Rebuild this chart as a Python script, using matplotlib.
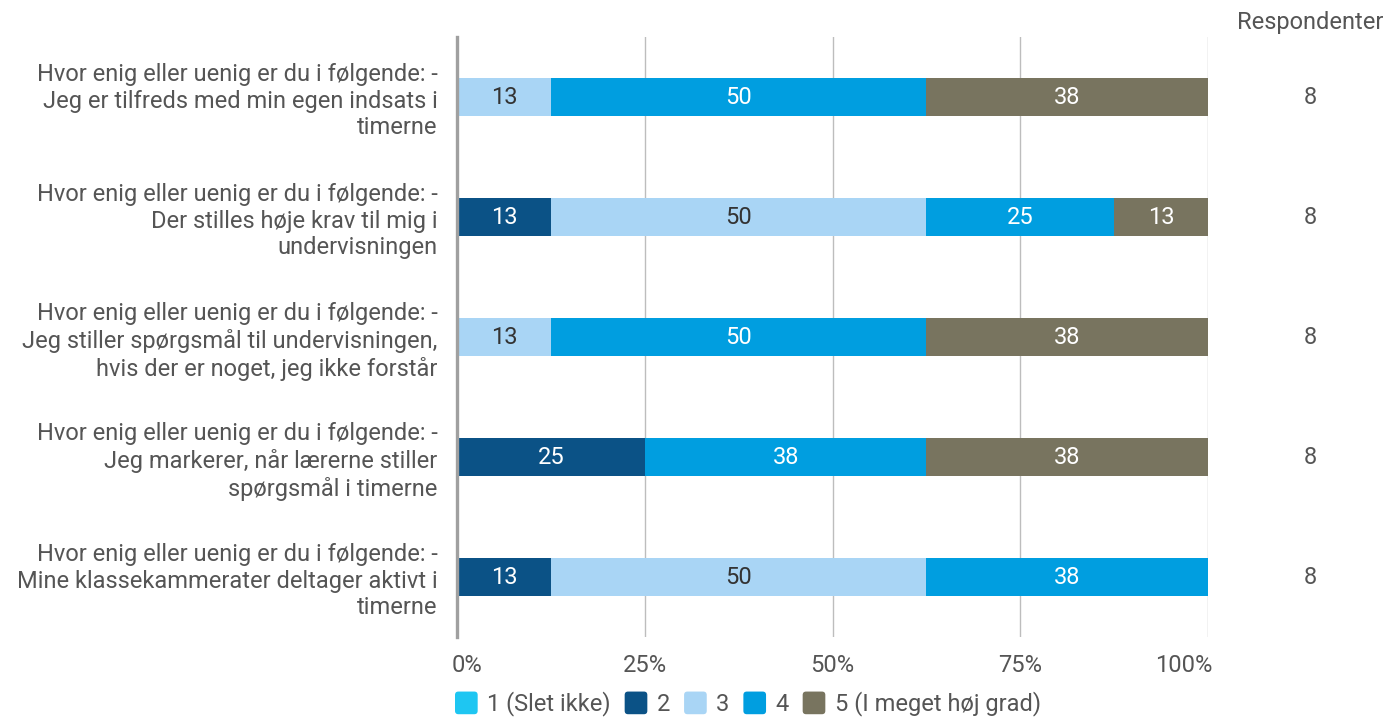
import matplotlib
matplotlib.use("Agg")
import matplotlib.pyplot as plt
from matplotlib.patches import Patch, FancyBboxPatch
from matplotlib.legend_handler import HandlerPatch
import matplotlib.transforms as mtransforms
import numpy as np

plt.rcParams['font.family'] = ['Roboto', 'DejaVu Sans']

categories = [
    "Hvor enig eller uenig er du i følgende: -\nJeg er tilfreds med min egen indsats i\ntimerne",
    "Hvor enig eller uenig er du i følgende: -\nDer stilles høje krav til mig i\nundervisningen",
    "Hvor enig eller uenig er du i følgende: -\nJeg stiller spørgsmål til undervisningen,\nhvis der er noget, jeg ikke forstår",
    "Hvor enig eller uenig er du i følgende: -\nJeg markerer, når lærerne stiller\nspørgsmål i timerne",
    "Hvor enig eller uenig er du i følgende: -\nMine klassekammerater deltager aktivt i\ntimerne",
]
series_names = ["1 (Slet ikke)", "2", "3", "4", "5 (I meget høj grad)"]
# percentages per category for each answer option
s1 = [0, 0, 0, 0, 0]
s2 = [0, 12.5, 0, 25, 12.5]
s3 = [12.5, 50, 12.5, 0, 50]
s4 = [50, 25, 50, 37.5, 37.5]
s5 = [37.5, 12.5, 37.5, 37.5, 0]
respondents = [8, 8, 8, 8, 8]
xticks = [0, 25, 50, 75, 100]
xticklabels = ["0%", "25%", "50%", "75%", "100%"]

colors = ["#1EC6F2", "#0B5286", "#A9D5F5", "#009EE0", "#78745F"]
text_colors = ["#333333", "white", "#333333", "white", "white"]

W, H = 1388, 718
fig = plt.figure(figsize=(W / 100, H / 100), dpi=100)
ax = fig.add_axes([457 / W, (H - 637) / H, 751 / W, 600 / H])

FS = 17
y = np.arange(len(categories))
left = np.zeros(len(categories))
for vals, col, tc in zip([s1, s2, s3, s4, s5], colors, text_colors):
    vals = np.array(vals, dtype=float)
    ax.barh(y, vals, left=left, height=0.317, color=col, zorder=3)
    for yi, v, l in zip(y, vals, left):
        if v > 0:
            ax.text(l + v / 2, yi, str(int(v + 0.5)), ha="center", va="center",
                    color=tc, fontsize=FS, zorder=4)
    left += vals

ax.set_xlim(0, 100)
ax.set_ylim(len(categories) - 0.5, -0.5)
ax.set_xticks(xticks)
ax.set_xticklabels(xticklabels)
ax.set_yticks(y)
ax.set_yticklabels(categories, fontsize=FS, color="#555555", ha="right",
                   linespacing=1.2)
ax.tick_params(axis="y", length=0, pad=14)
ax.tick_params(axis="x", length=0, pad=12, labelsize=FS, labelcolor="#555555")
xl = ax.get_xticklabels()
xl[0].set_ha("left")
xl[0].set_transform(xl[0].get_transform() +
                    mtransforms.ScaledTranslation(-5 / 100, 0, fig.dpi_scale_trans))
xl[-1].set_ha("right")
xl[-1].set_transform(xl[-1].get_transform() +
                     mtransforms.ScaledTranslation(4 / 100, 0, fig.dpi_scale_trans))

ax.grid(axis="x", color="#BDBDBD", linewidth=1, zorder=0)
ax.grid(axis="y", visible=False)
for s in ["top", "right", "bottom"]:
    ax.spines[s].set_visible(False)
ax.spines["left"].set_color("#A0A0A0")
ax.spines["left"].set_linewidth(2.4)
ax.spines["left"].set_zorder(5)

# Respondents column
fig.text(1310 / W, 1 - 22 / H, "Respondenter", ha="center", va="center",
         fontsize=FS, color="#555555")
for yi, r in zip(y, respondents):
    disp = ax.transData.transform((0, yi))
    fy = fig.transFigure.inverted().transform(disp)[1]
    fig.text(1310 / W, fy, str(r), ha="center", va="center", fontsize=FS, color="#555555")


class RoundHandler(HandlerPatch):
    def create_artists(self, legend, orig_handle, xdescent, ydescent, width,
                       height, fontsize, trans):
        size = min(width, height)
        p = FancyBboxPatch((-xdescent, -ydescent + (height - size) / 2), size, size,
                           boxstyle="round,pad=0,rounding_size=%f" % (size * 0.15),
                           facecolor=orig_handle.get_facecolor(), edgecolor="none",
                           transform=trans)
        return [p]


handles = [Patch(facecolor=c, edgecolor="none") for c in colors]
leg = fig.legend(handles, series_names, loc="center left",
                 bbox_to_anchor=(455 / W, 1 - 704 / H), ncol=5, frameon=False,
                 fontsize=FS, handlelength=1.1, handleheight=1.1,
                 handletextpad=0.25, columnspacing=0.6, borderpad=0, borderaxespad=0,
                 handler_map={Patch: RoundHandler()})
for t in leg.get_texts():
    t.set_color("#555555")

fig.savefig("out.png", dpi=100)
